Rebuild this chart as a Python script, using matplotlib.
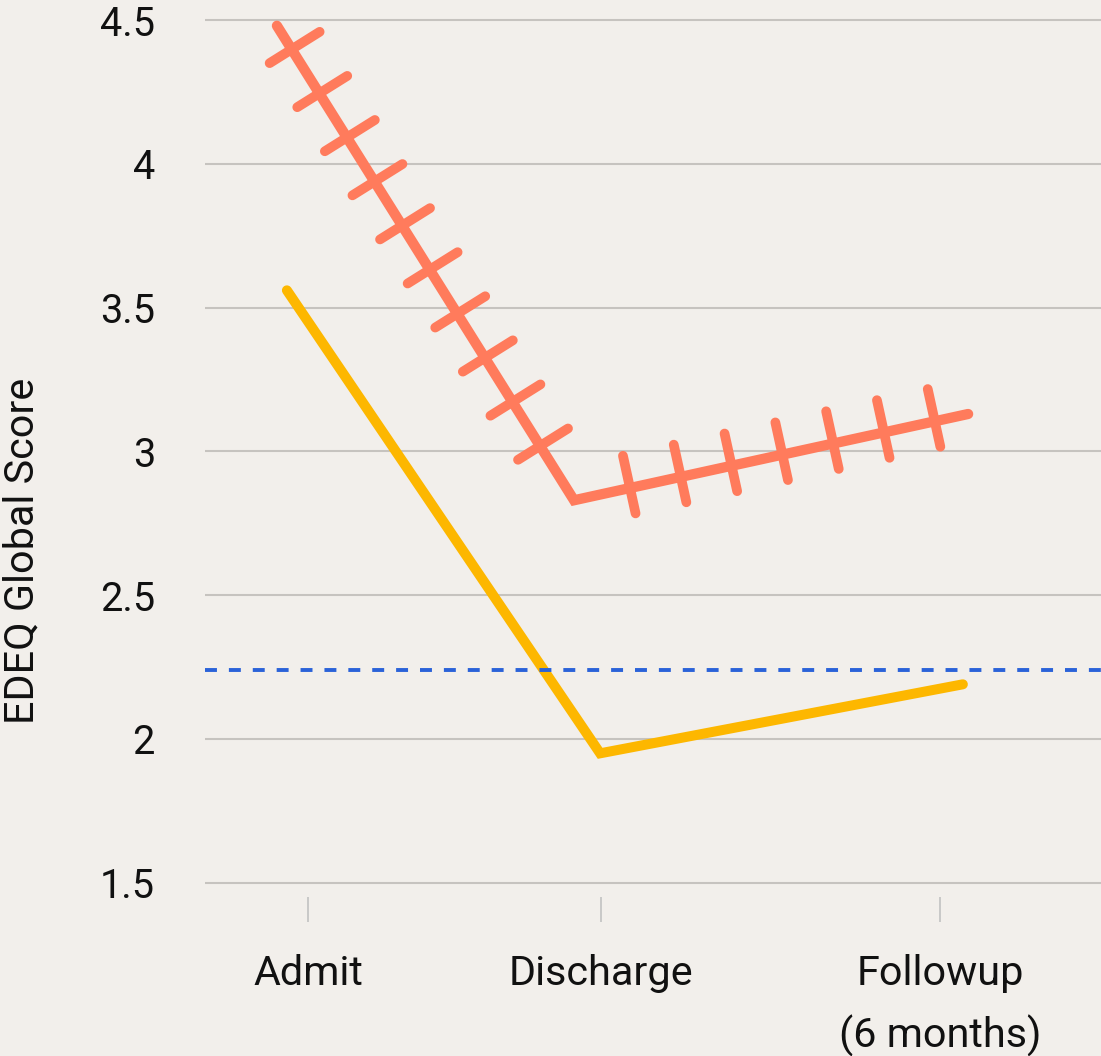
import numpy as np
import matplotlib
matplotlib.use("Agg")
import matplotlib.pyplot as plt

# 데이터
categories = ["Admit", "Discharge", "Followup\n(6 months)"]
tick_pos = [0, 1, 2.157]

hatched_x = [-0.106, 0.908, 2.253]
hatched_scores = [4.48, 2.83, 3.13]

solid_x = [-0.072, 0.997, 2.235]
solid_scores = [3.56, 1.95, 2.19]

cutoff = 2.24
y_ticks = [1.5, 2, 2.5, 3, 3.5, 4, 4.5]
y_tick_labels = ["1.5", "2", "2.5", "3", "3.5", "4", "4.5"]

BG = "#F2EFEB"
CORAL = "#FF7B5C"
GOLD = "#FDB700"
BLUE = "#2A62D8"
GRID = "#C6C3BF"
TEXT = "#111111"


def draw_hatches(ax, xs, ys, first_offsets, spacing=52, up=33, down=26, **kw):
    """선을 따라 수직 빗금 그리기 (픽셀 단위)"""
    pts = ax.transData.transform(np.column_stack([xs, ys]))
    inv = ax.transData.inverted()
    for p0, p1, first in zip(pts[:-1], pts[1:], first_offsets):
        d = p1 - p0
        seg_len = np.hypot(d[0], d[1])
        u = d / seg_len
        n = np.array([-u[1], u[0]])
        s = first
        while s < seg_len - 30:
            c = p0 + u * s
            ends = inv.transform([c - n * down, c + n * up])
            ax.plot(ends[:, 0], ends[:, 1], **kw)
            s += spacing


plt.rcParams["font.family"] = ["Roboto", "DejaVu Sans"]
plt.rcParams["lines.scale_dashes"] = False

fig = plt.figure(figsize=(11.01, 10.56), dpi=100, facecolor=BG)
ax = fig.add_axes([205 / 1101, 159 / 1056, 896 / 1101, 897 / 1056], facecolor=BG)

ax.set_xlim(-0.3515, 2.7065)
ax.set_ylim(1.4504, 4.5696)

for s in ax.spines.values():
    s.set_visible(False)

ax.set_yticks(y_ticks)
ax.set_yticklabels(y_tick_labels)
ax.yaxis.grid(True, color=GRID, linewidth=1.5)
ax.set_axisbelow(True)
ax.tick_params(axis="y", length=0, pad=36, labelsize=28.5, labelcolor=TEXT)

ax.set_xticks(tick_pos)
ax.set_xticklabels(categories)
ax.tick_params(axis="x", direction="out", length=18, width=1.4, color="#C8C8C8",
               pad=23, labelsize=29.8, labelcolor=TEXT)
for lbl in ax.get_xticklabels():
    lbl.set_linespacing(1.68)

ax.set_ylabel("EDEQ Global Score", fontsize=29.8, color=TEXT)
ax.yaxis.set_label_coords(-0.182, 0.386)

ax.plot(solid_x, solid_scores, color=GOLD, linewidth=7.2,
        solid_capstyle="round", solid_joinstyle="miter", zorder=3)
ax.axhline(cutoff, color=BLUE, linewidth=2.8, linestyle=(0, (8.6, 8.6)),
           dash_capstyle="butt", zorder=4)

ax.plot(hatched_x, hatched_scores, color=CORAL, linewidth=7.4,
        solid_capstyle="round", solid_joinstyle="miter", zorder=5)
draw_hatches(ax, hatched_x, hatched_scores, [27.8, 57.3], color=CORAL,
             linewidth=7.0, solid_capstyle="round", zorder=5)

fig.savefig("out.png", facecolor=BG)
